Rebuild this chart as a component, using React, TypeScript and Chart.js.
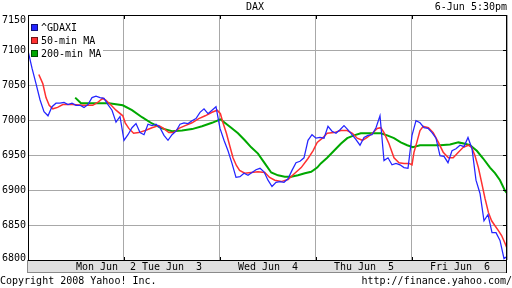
import React, { useEffect, useRef } from "react";
import { Chart, registerables } from "chart.js";

Chart.register(...registerables);

// ---- text ----
const chartTitle = "DAX";
const timeStamp = "6-Jun 5:30pm";
const copyrightText = "Copyright 2008 Yahoo! Inc.";
const sourceText = "http://finance.yahoo.com/";

// ---- axes ----
// x axis: 24 samples per trading day, 5 days (Mon Jun 2 .. Fri Jun 6)
const dayBoundaries = [24, 48, 72, 96];
const dayLabels = ["Mon Jun  2", "Tue Jun  3", "Wed Jun  4", "Thu Jun  5", "Fri Jun  6"];
const dayLabelAt = [19.5, 36, 60, 84, 108];
const yTicks = [7150, 7100, 7050, 7000, 6950, 6900, 6850, 6800];

// ---- series ----
const seriesNames = ["^GDAXI", "50-min MA", "200-min MA"];
const seriesColors = ["#2424ff", "#ff3030", "#00a800"];

// ^GDAXI, one value per sample (index = sample number)
const gdaxi = [
  // Mon
  7099, 7074, 7052, 7029, 7012, 7006, 7019, 7024, 7024, 7025, 7022, 7024,
  7021, 7021, 7018, 7022, 7032, 7034, 7032, 7031, 7022, 7014, 6997, 7005,
  // Tue
  6971, 6979, 6989, 6995, 6982, 6979, 6994, 6992, 6994, 6989, 6978, 6971,
  6979, 6984, 6994, 6996, 6995, 6999, 7002, 7011, 7016, 7009, 7014, 7019,
  // Wed
  6988, 6971, 6956, 6938, 6918, 6919, 6924, 6921, 6925, 6929, 6931, 6926,
  6914, 6905, 6911, 6912, 6911, 6916, 6928, 6939, 6941, 6946, 6971, 6979,
  // Thu
  6974, 6975, 6974, 6991, 6984, 6981, 6986, 6992, 6986, 6979, 6972, 6964,
  6975, 6978, 6979, 6989, 7006, 6942, 6946, 6936, 6938, 6936, 6932, 6931,
  // Fri
  6978, 6999, 6996, 6989, 6988, 6982, 6974, 6949, 6948, 6939, 6956, 6959,
  6964, 6962, 6975, 6959, 6914, 6895, 6856, 6865, 6839, 6839, 6828, 6802, 6806,
];

// 50-min moving average: sample positions and values
const ma50Time = [
  2.7, 3.7, 4.5, 5.3, 6.2, 7.4, 8.7, 11.2, 13.7, 16.2, 17.4, 18.7, 19.5, 20.8, 22, 23.7,
  24.3, 25.2, 26.4, 27.7, 29.3, 31, 32.7, 33.9, 35.2, 36.4, 37.7, 39.3, 41, 42.7, 44.3, 46, 47.3,
  48.1, 48.75, 49.6, 50.4, 51.25, 52.1, 52.9, 54.2, 55.8, 57.5, 59.2, 60.4, 61.7, 63.3, 65, 66.7,
  68.3, 70, 71.25, 72.3, 73.6, 74.8, 76.5, 78.2, 79.8, 81.1, 82.3, 83.6, 84.8, 86.1, 87.3, 88.2,
  89, 90.25, 91.5, 92.75, 94, 95.25, 96, 96.5, 97.2, 98, 98.8, 100.1, 101.3, 102.6, 103.8, 105.1,
  106.3, 107.6, 108.8, 110.1, 110.9, 111.75, 112.6, 113.4, 114.25, 115.1, 115.9, 116.75, 117.6,
  118.4, 119.25, 119.8,
];
const ma50 = [
  7065, 7052, 7032, 7021, 7016, 7018, 7022, 7022, 7021, 7021, 7025, 7031, 7028, 7021, 7014, 7006,
  6996, 6988, 6981, 6982, 6985, 6989, 6992, 6988, 6982, 6982, 6988, 6992, 6996, 7002, 7006, 7011, 7014,
  7009, 6996, 6981, 6964, 6946, 6935, 6928, 6924, 6925, 6926, 6925, 6918, 6914, 6912, 6915, 6924,
  6932, 6945, 6956, 6968, 6974, 6981, 6982, 6985, 6985, 6981, 6974, 6971, 6975, 6981, 6988, 6989,
  6982, 6966, 6946, 6939, 6938, 6938, 6936, 6954, 6968, 6985, 6991, 6989, 6982, 6968, 6954, 6946,
  6946, 6954, 6961, 6964, 6961, 6949, 6932, 6911, 6888, 6868, 6856, 6849, 6842,
  6835, 6824, 6816,
];

// 200-min moving average: sample positions and values
const ma200Time = [
  11.8, 13.25, 16.2, 20.25, 23.7, 26, 28.5, 31, 33.5, 36, 38.5, 41, 43.5, 46, 48.1, 49.2, 50.8,
  52.5, 54.2, 55.8, 57.5, 59.2, 60.8, 62.5, 64.2, 65.8, 67.5, 69.2, 70.8, 72.3, 73.2, 74.8, 76.5,
  78.2, 79.8, 81.5, 83.2, 86.5, 88.2, 89.8, 91.5, 93.2, 94.8, 96.2, 98, 100.5, 103, 105.5, 107.6,
  109.25, 110.5, 112.2, 113.8, 115.5, 116.75, 118, 119.25, 119.8,
];
const ma200 = [
  7032, 7024, 7024, 7024, 7021, 7014, 7004, 6995, 6988, 6984, 6985, 6987, 6991, 6996, 7001, 6996, 6989,
  6981, 6971, 6961, 6952, 6938, 6925, 6921, 6919, 6919, 6921, 6924, 6926, 6932, 6938, 6946, 6956,
  6966, 6974, 6978, 6981, 6981, 6981, 6978, 6974, 6968, 6964, 6961, 6964, 6964, 6964, 6965, 6968,
  6966, 6964, 6956, 6945, 6932, 6924, 6914, 6899, 6895,
];

const FONT = '10px "DejaVu Sans Mono", "Liberation Mono", monospace';

const yahooPlugin = {
  id: "yahooFrame",
  beforeDatasetsDraw(chart: any) {
    const ctx = chart.ctx as CanvasRenderingContext2D;
    const a = chart.chartArea;
    ctx.save();
    // legend background
    ctx.fillStyle = "#ffffff";
    ctx.fillRect(a.left + 1, a.top + 1, 74, 43);
    ctx.font = FONT;
    ctx.textBaseline = "middle";
    ctx.textAlign = "left";
    seriesNames.forEach((name, k) => {
      const top = a.top + 9 + k * 13;
      ctx.fillStyle = seriesColors[k];
      ctx.fillRect(a.left + 3, top, 7, 7);
      ctx.strokeStyle = "rgba(0,0,0,0.55)";
      ctx.lineWidth = 1;
      ctx.strokeRect(a.left + 3.5, top + 0.5, 6, 6);
      ctx.fillStyle = "#000000";
      ctx.fillText(name, a.left + 13, top + 4);
    });
    ctx.restore();
  },
  afterDraw(chart: any) {
    const ctx = chart.ctx as CanvasRenderingContext2D;
    const a = chart.chartArea;
    const xs = chart.scales.x;
    const ys = chart.scales.y;
    const w = a.right - a.left;
    ctx.save();
    // label strip under the plot
    ctx.fillStyle = "#e0e0e0";
    ctx.fillRect(a.left, a.bottom + 1, w, 12);
    ctx.fillStyle = "#8a8a8a";
    ctx.fillRect(a.left - 1, a.bottom, 1, 13);
    ctx.fillRect(a.left - 1, a.bottom + 12, w + 1, 1);
    // black frame
    ctx.fillStyle = "#000000";
    ctx.fillRect(a.left, a.top, 1, a.bottom - a.top + 1);
    ctx.fillRect(a.left, a.top, w, 1);
    ctx.fillRect(a.right - 1, a.top, 1, a.bottom - a.top + 13);
    ctx.fillRect(a.left, a.bottom, w, 1);
    // tick marks
    dayBoundaries.forEach((v) => {
      const px = Math.round(xs.getPixelForValue(v));
      ctx.fillRect(px, a.top + 1, 1, 3);
      ctx.fillRect(px, a.bottom - 3, 1, 3);
    });
    yTicks.forEach((v) => {
      const py = Math.round(ys.getPixelForValue(v));
      ctx.fillRect(a.right - 4, py, 3, 1);
    });
    // texts
    ctx.font = FONT;
    ctx.textBaseline = "middle";
    ctx.fillStyle = "#000000";
    ctx.textAlign = "right";
    yTicks.forEach((v) => {
      let py = ys.getPixelForValue(v);
      py = Math.max(a.top + 5, Math.min(a.bottom - 2, py));
      ctx.fillText(String(v), 26, py + 0.5);
    });
    ctx.textAlign = "center";
    dayLabels.forEach((lab, k) => {
      ctx.fillText(lab, xs.getPixelForValue(dayLabelAt[k]), a.bottom + 7);
    });
    ctx.fillText(chartTitle, 255, 7.5);
    ctx.textAlign = "right";
    ctx.fillText(timeStamp, 507, 7.5);
    ctx.fillText(sourceText, 512, 281.5);
    ctx.textAlign = "left";
    ctx.fillText(copyrightText, 0, 281.5);
    ctx.restore();
  },
};

export default function App() {
  const ref = useRef<HTMLCanvasElement | null>(null);

  useEffect(() => {
    document.body.style.margin = "0";
    const canvas = ref.current;
    if (!canvas) return;
    const chart = new Chart(canvas, {
      type: "line",
      data: {
        datasets: [
          {
            label: seriesNames[0],
            data: gdaxi.map((v, i) => ({ x: i, y: v })),
            borderColor: seriesColors[0],
            borderWidth: 1.25,
            pointRadius: 0,
            tension: 0,
          },
          {
            label: seriesNames[1],
            data: ma50Time.map((t, k) => ({ x: t, y: ma50[k] })),
            borderColor: seriesColors[1],
            borderWidth: 1.5,
            pointRadius: 0,
            tension: 0,
          },
          {
            label: seriesNames[2],
            data: ma200Time.map((t, k) => ({ x: t, y: ma200[k] })),
            borderColor: seriesColors[2],
            borderWidth: 2,
            pointRadius: 0,
            tension: 0,
          },
        ],
      },
      options: {
        responsive: false,
        maintainAspectRatio: false,
        devicePixelRatio: 1,
        animation: false,
        layout: { padding: { left: 28, top: 15, right: 5, bottom: 28 } },
        plugins: { legend: { display: false }, tooltip: { enabled: false } },
        scales: {
          x: {
            type: "linear",
            min: 0,
            max: 119.75,
            ticks: { display: false, stepSize: 24 },
            grid: { color: "#a8a8a8", drawTicks: false, lineWidth: 1 },
            border: { display: false },
          },
          y: {
            type: "linear",
            min: 6800,
            max: 7150,
            ticks: { display: false, stepSize: 50 },
            grid: { color: "#a8a8a8", drawTicks: false, lineWidth: 1 },
            border: { display: false },
          },
        },
      },
      plugins: [yahooPlugin],
    });
    return () => chart.destroy();
  }, []);

  return (
    <div style={{ position: "absolute", left: 0, top: 0, width: 512, height: 288 }}>
      <canvas ref={ref} width={512} height={288} style={{ display: "block", width: 512, height: 288 }} />
    </div>
  );
}
